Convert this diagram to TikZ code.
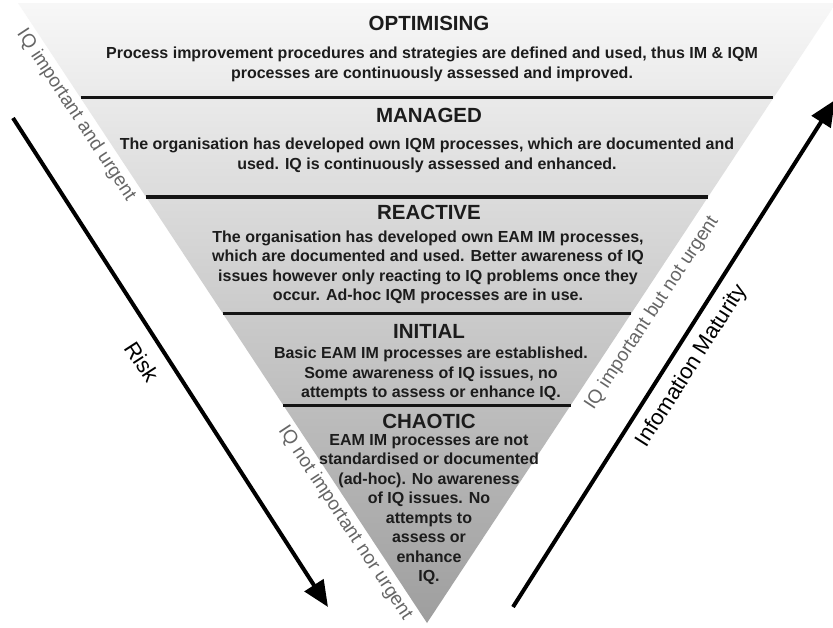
\documentclass[tikz,border=0pt]{standalone}
\usepackage{fontspec}
\setmainfont{Liberation Sans}
\usetikzlibrary{arrows.meta,calc}
\definecolor{txt}{HTML}{1C1C1C}
\definecolor{sidegray}{HTML}{666666}
\tikzset{
  ttl/.style={inner sep=0pt, text=txt, font=\fontsize{20.5}{20.5}\selectfont\bfseries},
  body/.style={inner sep=0pt, text=txt, align=center, font=\fontsize{16}{19.5}\selectfont\bfseries},
  sidelbl/.style={inner sep=0pt, text=sidegray, font=\fontsize{19}{19}\selectfont},
  axlbl/.style={inner sep=0pt, text=black, font=\fontsize{22}{22}\selectfont},
  sepline/.style={line width=3pt, draw=black!92},
  bigarrow/.style={line width=4pt, draw=black, -{Triangle[length=26pt,width=22pt]}}
}
\begin{document}
\begin{tikzpicture}[x=1pt,y=-1pt]
\useasboundingbox (0,0) rectangle (833,627);
\fill[white] (0,0) rectangle (833,627);
\clip (0,0) rectangle (833,627);
% triangle
\coordinate (TL) at (18,3);
\coordinate (TR) at (836,3);
\coordinate (AP) at (427,623);
\shade[top color=white!97!black, bottom color=black!38] (TL) -- (TR) -- (AP) -- cycle;
% level separators
\draw[sepline] ($(TL)!0.1532!(AP)$) -- ($(TR)!0.1532!(AP)$);
\draw[sepline] ($(TL)!0.3129!(AP)$) -- ($(TR)!0.3129!(AP)$);
\draw[sepline] ($(TL)!0.5016!(AP)$) -- ($(TR)!0.5016!(AP)$);
\draw[sepline] ($(TL)!0.6484!(AP)$) -- ($(TR)!0.6484!(AP)$);
% levels
\node[ttl] (t1) at (429,23) {OPTIMISING};
\node[body] (b1) at (432,64.5) {Process improvement procedures and strategies are defined and used, thus IM \& IQM\\processes are continuously assessed and improved.};
\node[ttl] (t2) at (429,115) {MANAGED};
\node[body] (b2) at (427,155.5) {The organisation has developed own IQM processes, which are documented and\\used. IQ is continuously assessed and enhanced.};
\node[ttl] (t3) at (429,212) {REACTIVE};
\node[body] (b3) at (428,267.5) {The organisation has developed own EAM IM processes,\\which are documented and used. Better awareness of IQ\\issues however only reacting to IQ problems once they\\occur. Ad-hoc IQM processes are in use.};
\node[ttl] (t4) at (429,331) {INITIAL};
\node[body] (b4) at (431,374) {Basic EAM IM processes are established.\\Some awareness of IQ issues, no\\attempts to assess or enhance IQ.};
\node[ttl] (t5) at (429,421) {CHAOTIC};
\node[body] (b5) at (429,509.5) {EAM IM processes are not\\standardised or documented\\(ad-hoc). No awareness\\of IQ issues. No\\attempts to\\assess or\\enhance\\IQ.};
% arrows
\coordinate (riskA) at (13,118);
\coordinate (riskB) at (328,607);
\coordinate (matA) at (513,607);
\coordinate (matB) at (835,100);
\draw[bigarrow] (riskA) -- (riskB);
\draw[bigarrow] (matA) -- (matB);
% side labels
\node[sidelbl, rotate=-56.6] (l1) at (76,115) {IQ important and urgent};
\node[sidelbl, rotate=-56.6] (l2) at (345,523) {IQ not important nor urgent};
\node[sidelbl, rotate=56.6] (l3) at (652,313) {IQ important but not urgent};
\node[axlbl, rotate=-57.2] (risk) at (142,362) {Risk};
\node[axlbl, rotate=57.6] (mat) at (692,366) {Infomation Maturity};
\end{tikzpicture}
\end{document}
